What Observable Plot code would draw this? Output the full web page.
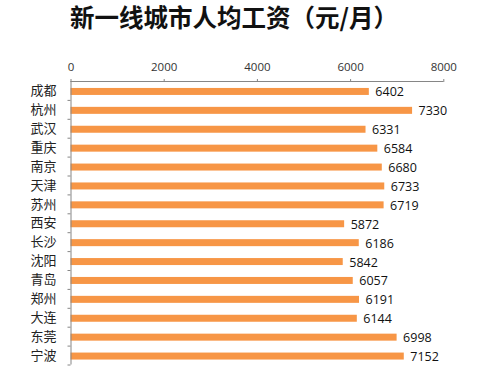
<!DOCTYPE html>
<html>
<head>
<meta charset="utf-8">
<script src="https://cdn.jsdelivr.net/npm/d3@7"></script>
<script src="https://cdn.jsdelivr.net/npm/@observablehq/plot@0.6"></script>
<style>
  html, body { margin: 0; padding: 0; background: #fff; }
  #wrap { position: relative; width: 488px; height: 379px; overflow: hidden; }
  #title {
    position: absolute; left: 70px; top: 0px;
    font-family: "Noto Sans CJK SC", sans-serif; font-weight: 700;
    font-size: 24.5px; line-height: 34px; color: #111; white-space: nowrap;
  }
  #chart { position: absolute; left: 0; top: 0; }
</style>
</head>
<body>
<div id="wrap">
  <div id="chart"></div>
  <div id="title">新一线城市人均工资（元/月）</div>
</div>
<script>
// Average monthly wage in "new first-tier" cities (yuan / month)
const cities = ["成都", "杭州", "武汉", "重庆", "南京", "天津", "苏州", "西安",
                "长沙", "沈阳", "青岛", "郑州", "大连", "东莞", "宁波"];
const wages  = [6402, 7330, 6331, 6584, 6680, 6733, 6719, 5872,
                6186, 5842, 6057, 6191, 6144, 6998, 7152];
const xTicks = [0, 2000, 4000, 6000, 8000];

const data = cities.map((city, i) => ({city, wage: wages[i]}));

const marginTop = 81, marginBottom = 14.5;
const height = 379;
const step = (height - marginTop - marginBottom) / cities.length;

const chart = Plot.plot({
  width: 488,
  height,
  marginTop,
  marginBottom,
  marginLeft: 70.5,
  marginRight: 44.7,
  style: {fontFamily: "'Open Sans', 'Noto Sans CJK SC', sans-serif", background: "#fff"},
  x: {domain: [0, 8000]},
  y: {domain: cities, paddingInner: 0.63, paddingOuter: 0.315, round: false},
  marks: [
    Plot.barX(data, {x: "wage", y: "city", fill: "#F79646", dy: 1}),
    Plot.text(data, {
      x: "wage", y: "city", text: d => String(d.wage),
      dx: 6, dy: 1.5, textAnchor: "start", fontSize: 12.5, fill: "#111"
    }),
    // axis lines along the left and top edges
    Plot.ruleX([0], {stroke: "#868686"}),
    Plot.ruleY([cities[0]], {dy: -step / 2, stroke: "#868686"}),
    Plot.axisX({
      anchor: "top", ticks: xTicks, tickFormat: d => String(d),
      tickSize: 3, tickPadding: 8, fontSize: 11.5, stroke: "#868686",
      color: "#333", label: null
    }),
    // category ticks sit on the boundaries between bands
    Plot.axisY({
      tickSize: 3, tickFormat: () => "", dy: step / 2,
      stroke: "#868686", label: null
    }),
    Plot.axisY({
      tickSize: 0, tickPadding: 14.5, fontSize: 13, label: null,
      fontFamily: "'Noto Sans CJK SC', sans-serif", fill: "#222"
    })
  ]
});
document.getElementById("chart").appendChild(chart);
</script>
</body>
</html>
